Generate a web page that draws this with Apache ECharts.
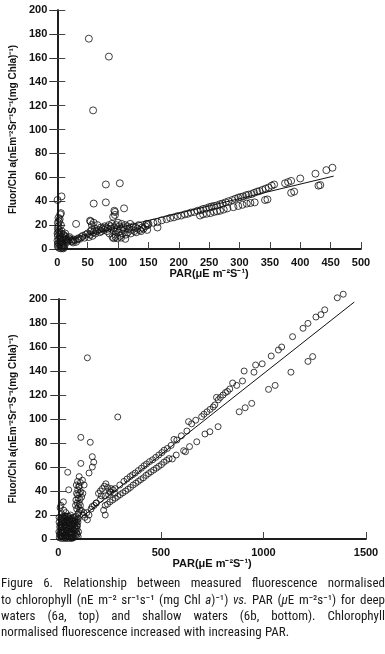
<!DOCTYPE html>
<html>
<head>
<meta charset="utf-8">
<script src="https://cdn.jsdelivr.net/npm/echarts@6/dist/echarts.min.js"></script>
<style>
  html, body { margin: 0; padding: 0; background: #fff; }
  #chart { width: 385px; height: 654px; }
</style>
</head>
<body>
<div id="chart"></div>
<script>
// ---- Fig 6a (deep waters): PAR vs Fluor/Chl a ----
const deepNearZero = [
  [1,2],[2,5],[3,8],[1,11],[2,14],[4,12],[5,9],[3,16],[2,19],[1,22],[4,25],[6,20],[5,6],[7,3],[8,1],
  [9,2],[10,0.5],[11,1.5],[12,3],[6,13],[8,10],[7,15],[9,7],[10,12],[11,9],[12,11],[13,8],[3,1],[4,4],
  [6,0.5],[2,26],[5,29],[3,23],[1,17],[8,5],[10,4],[13,13],[0.5,7],[0.5,13],[1,4]
];
const deepLowBand = [
  [15,8],[17,7],[19,9],[21,8],[23,6.5],[25,7],[27,8],[29,7.5],[31,6],[33,8],[35,9],[37,8.5],[40,10],
  [42,11],[45,9.5],[47,12],[14,10],[16,6],[20,10],[26,5.5]
];
const deepMid = [
  [50,13],[52,10],[54,12],[55,15],[57,16],[58,11],[60,14],[62,17],[63,13],[65,15],[66,20],[68,16],[70,14],
  [72,18],[73,15],[75,17],[77,16],[78,19],[80,18],[82,15],[83,17],[85,20],[86,13],[88,19],[89,17],[90,21],
  [91,10],[92,27],[93,15],[94,18],[95,31],[96,12],[97,20],[98,16],[100,22],[101,14],[102,19],[104,11],
  [105,17],[106,21],[108,13],[109,18],[110,16],[112,20],[113,12],[115,19],[116,14],[118,17],[120,21],
  [121,13],[123,16],[125,19],[127,15],[129,18],[130,14],[132,17],[134,20],[136,16],[138,15],[140,18],
  [142,17],[145,19],[147,21],[148,16],[55,23],[60,22],[57,20],[99,9],[96,10],[93,9],[112,8.5],[105,9.5]
];
const deepUpperBand = [
  [150,21],[158,22],[165,22.5],[172,24],[180,25],[186,26],[192,26.5],[198,27.5],[204,28],[210,29],
  [215,29.5],[220,30.5],[226,31],[231,32],[236,32.5],[240,33.5],[245,34],[250,35],[254,35.5],[258,36],
  [263,36.5],[268,37.5],[272,38],[277,39],[282,40],[288,41],[293,42],[298,43],[302,43.5],[306,44],
  [311,45],[315,45.5],[320,46],[324,47],[329,48],[333,48.5],[338,49.5],[343,50.5],[348,51.5],[353,53],
  [357,54],[375,55],[380,56],[385,57],[400,59],[425,63],[443,66],[453,68]
];
const deepLowerBand = [
  [235,28],[240,29],[246,29.5],[252,30],[258,31],[263,31.5],[268,32],[274,33],[280,34],[290,35],
  [298,36],[305,37],[312,38],[318,38.5],[325,39],[342,41],[346,41.5],[385,47],[390,48],[430,53],[433,53.5]
];
const deepOutliers = [
  [52,176],[85,161],[59,116],[80,54],[103,55],[60,38],[80,39],[94,32],[110,34],[31,21],[54,23.7],
  [165,18],[149,20],[7,44],[0.5,41],[6,30],[95,28.5]
];
const deepFit = [[0,5.6],[455,61]];

// ---- Fig 6b (shallow waters) ----
const shallowNearZero = [
  [5,1],[8,3],[10,6],[12,9],[14,12],[16,15],[18,18],[20,2],[22,5],[24,8],[26,11],[28,14],[30,17],[32,19],
  [34,1],[36,4],[38,7],[40,10],[42,13],[44,16],[46,19],[48,2],[50,5],[52,8],[54,11],[56,14],[58,17],
  [60,20],[62,3],[64,6],[66,9],[68,12],[70,15],[72,18],[74,1],[76,4],[78,7],[80,10],[82,13],[84,16],
  [86,19],[88,2],[90,5],[92,8],[94,11],[96,14],[98,17],[15,0.5],[25,0.5],[35,0.5],[45,0.5],[55,0.5],
  [65,0.5],[7,10],[19,7],[29,3],[39,16],[49,13],[59,9],[69,4],[79,18],[89,14],[99,6],[11,17],[21,13],
  [31,9],[41,6],[51,19],[61,15],[71,1],[3,6],[4,14],[17,21],[27,24],[37,22],[9,26],[13,28],
  [6,4],[9,12],[13,2],[17,10],[23,15],[27,6],[33,12],[37,3],[43,8],[47,15],[53,2],[57,6],[63,11],
  [67,17],[73,8],[77,13],[83,3],[87,9],[93,16],[97,2],[4,18],[14,5],[24,19],[34,14],[44,3],[54,17],
  [64,1],[74,12],[84,7],[94,4],[20,16],[30,11],[40,19],[50,9],[60,5],[70,8],[80,15],[90,11]
];
const shallowColumn = [
  [86,32.5],[94,36.7],[102,29.7],[110,39.4],[102,43.6],[126,45],[118,49],[94,48],[102,52],[90,25],
  [98,27],[106,33],[114,35],[95,41],[120,38],[88,45],[100,22],[112,24],[84,28],[108,47],
  [92,30],[104,38],[97,34],[89,38],[108,28],[100,44],[96,21],[105,24]
];
const shallowMidCluster = [
  [196,38],[205,40],[215,42],[225,44],[232,46],[240,43],[250,40],[258,42],[267,41],[275,38],[210,36],
  [245,37],[221,24],[229,20],[150,20],[142,16],[130,18],[125,22],[160,25],[175,28],[185,30]
];
const shallowUpperBand = [
  [120,20],[140,22],[165,27],[185,30],[205,33],[230,36],[255,39],[277,42],[300,45],[320,48],[335,50],
  [350,52],[362,53.5],[375,55],[390,57],[405,59],[418,61],[430,62.5],[445,64.5],[460,66],[475,68],
  [490,70],[505,72],[516,74],[532,75.5],[550,78],[564,83],[578,82.5],[600,86],[627,90],[635,97.8],
  [650,96],[670,99],[699,102],[710,104],[725,106],[740,108],[755,110],[763,111.7],[771,118],[780,116],
  [790,118],[803,120],[815,122],[825,123],[836,125],[850,130],[870,128],[898,131.7],[906,140],[954,139],
  [962,145],[994,146],[1038,152.5],[1073,157.5],[1089,160],[1142,168.6],[1193,175.6],[1217,179.7],
  [1256,185],[1280,187],[1299,191],[1360,201],[1389,204]
];
const shallowLowerBand = [
  [229,28],[240,29],[252,31],[265,32.5],[278,34],[290,35.5],[302,37],[315,38.5],[328,40],[340,41.5],
  [352,43],[365,45],[378,46.5],[390,48],[402,49.5],[415,51],[428,53],[440,54.5],[452,56],[465,57.5],
  [478,59],[490,60.5],[503,62],[515,64],[528,65.5],[540,67],[556,66.7],[575,70],[611,73.6],[620,72.7],
  [640,77],[675,81],[715,87.5],[739,89.4],[779,93.6],[882,106],[911,109.4],[943,113],[1025,124.7],
  [1057,128],[1134,139],[1217,148],[1240,152]
];
const shallowOutliers = [
  [142,151],[290,101.7],[110,84.7],[156,80.6],[166,68.6],[173,64],[110,63],[46,55.6],[166,60],[150,55],
  [51,41],[25,31]
];
const shallowFit = [[80,13.6],[1443,197.5]];

const deepTicks = { min: 0, max: 500, interval: 50 };
const shallowTicks = { min: 0, max: 1500, interval: 500 };
const yTicks = { min: 0, max: 200, interval: 20 };

const xName = 'PAR(μE m⁻²S⁻¹)';
const yName = 'Fluor/Chl a(nEm⁻²Sr⁻¹S⁻¹(mg Chla)⁻¹)';

const captionLines = [
  'Figure 6. Relationship between measured fluorescence normalised',
  'to chlorophyll (nE m⁻² sr⁻¹s⁻¹ (mg Chl _a_)⁻¹) _vs._ PAR (_μ_E m⁻²s⁻¹) for deep',
  'waters (6a, top) and shallow waters (6b, bottom). Chlorophyll',
  'normalised fluorescence increased with increasing PAR.'
];
const captionY = [584, 601, 617, 633];

// ---- styling ----
const boldText = { fontFamily: 'Liberation Sans, Arial, sans-serif', fontWeight: 'bold', fontSize: 11, color: '#111' };
const edge = { lineStyle: { color: '#111', width: 1.5 } };
const CAP_FONT = '"Liberation Sans Narrow", "Roboto Condensed", "DejaVu Sans Condensed", sans-serif';
const CAP_SIZE = 13;
const CAP_LEFT = 1, CAP_RIGHT = 385;

const ctx = document.createElement('canvas').getContext('2d');
const capFont = (it) => (it ? 'italic ' : '') + CAP_SIZE + 'px ' + CAP_FONT;
const measure = (t, it) => { ctx.font = capFont(it); return ctx.measureText(t).width; };

function captionGraphics() {
  const out = [];
  captionLines.forEach((line, li) => {
    const words = line.split(' ').map(w =>
      w.split(/(_[^_]+_)/).filter(Boolean).map(p =>
        p.startsWith('_') ? { t: p.slice(1, -1), it: true } : { t: p, it: false }));
    const widths = words.map(ps => ps.reduce((s, p) => s + measure(p.t, p.it), 0));
    const total = widths.reduce((a, b) => a + b, 0);
    const last = li === captionLines.length - 1;
    const gap = last ? measure(' ', false) * 1.1 : (CAP_RIGHT - CAP_LEFT - total) / (words.length - 1);
    let x = CAP_LEFT;
    words.forEach(ps => {
      ps.forEach(p => {
        out.push({
          type: 'text', x: x, y: captionY[li],
          style: { text: p.t, font: capFont(p.it), fill: '#1a1a1a', verticalAlign: 'middle', align: 'left' }
        });
        x += measure(p.t, p.it);
      });
      x += gap;
    });
  });
  return out;
}

const scatter = (data, xi, size) => ({
  type: 'scatter', xAxisIndex: xi, yAxisIndex: xi, data: data,
  symbol: 'circle', symbolSize: size, clip: false,
  itemStyle: { color: 'rgba(255,255,255,0)', borderColor: '#111', borderWidth: 1 },
  silent: true
});
const fitLine = (data, xi) => ({
  type: 'line', xAxisIndex: xi, yAxisIndex: xi, data: data, symbol: 'none',
  lineStyle: { color: '#111', width: 1 }, silent: true
});

const bottomX = (ticks, gi, gap) => Object.assign({
  gridIndex: gi, type: 'value', axisLine: edge,
  axisTick: { inside: true, length: 3, lineStyle: { color: '#333' } },
  splitLine: { show: false },
  axisLabel: Object.assign({ margin: 8, formatter: (v) => String(v) }, boldText),
  name: xName, nameLocation: 'middle', nameGap: gap, nameTextStyle: boldText
}, ticks);
const topX = (ticks, gi) => Object.assign({
  gridIndex: gi, type: 'value', position: 'top', axisLine: edge,
  axisTick: { length: 7, lineStyle: { color: '#444' } },
  axisLabel: { show: false }, splitLine: { show: false }
}, ticks);
const leftY = (gi, margin, gap) => Object.assign({
  gridIndex: gi, type: 'value', axisLine: edge,
  axisTick: { length: 8, lineStyle: { color: '#333' } },
  splitLine: { show: false },
  axisLabel: Object.assign({ margin: margin }, boldText),
  name: yName, nameLocation: 'middle', nameRotate: 90, nameGap: gap,
  nameTextStyle: Object.assign({}, boldText, { fontSize: 10 })
}, yTicks);
const rightY = (gi) => Object.assign({
  gridIndex: gi, type: 'value', position: 'right', axisLine: edge,
  axisTick: { length: 8, lineStyle: { color: '#444' } },
  axisLabel: { show: false }, splitLine: { show: false }
}, yTicks);

const chart = echarts.init(document.getElementById('chart'), null, { renderer: 'canvas' });
chart.setOption({
  animation: false,
  backgroundColor: '#fff',
  grid: [
    { left: 49, top: 10, width: 312, height: 239 },
    { left: 52, top: 299, width: 314, height: 240 }
  ],
  xAxis: [bottomX(deepTicks, 0, 18), bottomX(shallowTicks, 1, 18), topX(deepTicks, 0), topX(shallowTicks, 1)],
  yAxis: [leftY(0, 10, 29), leftY(1, 11, 40), rightY(0), rightY(1)],
  series: [
    scatter(deepNearZero.concat(deepLowBand, deepMid, deepUpperBand, deepLowerBand, deepOutliers), 0, 7),
    fitLine(deepFit, 0),
    scatter(shallowNearZero.concat(shallowColumn, shallowMidCluster, shallowUpperBand, shallowLowerBand, shallowOutliers), 1, 6),
    fitLine(shallowFit, 1)
  ],
  graphic: captionGraphics()
});
</script>
</body>
</html>
